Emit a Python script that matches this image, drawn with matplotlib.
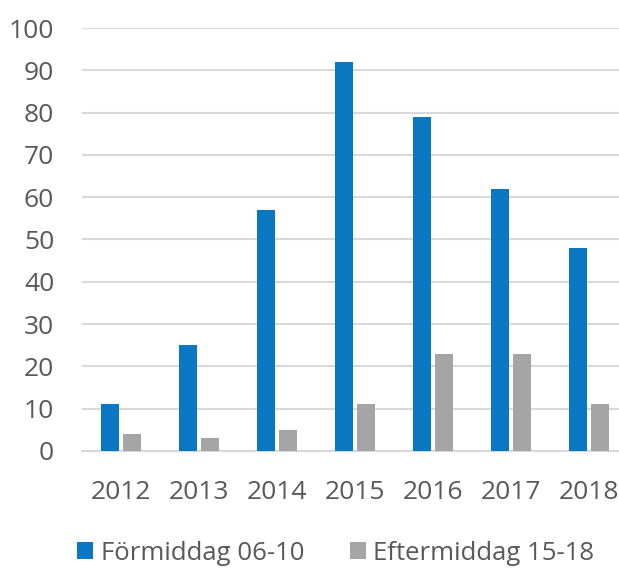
import matplotlib.pyplot as plt
import numpy as np

# data
years = ['2012', '2013', '2014', '2015', '2016', '2017', '2018']
morning = [11, 25, 57, 92, 79, 62, 48]    # Förmiddag 06-10
afternoon = [4, 3, 5, 11, 23, 23, 11]     # Eftermiddag 15-18
yticks = [0, 10, 20, 30, 40, 50, 60, 70, 80, 90, 100]

plt.rcParams['font.family'] = ['Open Sans', 'DejaVu Sans']
txt = '#595959'

fig = plt.figure(figsize=(6.19, 5.68), dpi=100)
ax = fig.add_axes([82/619, 117/568, 546/619, 423/568])

x = np.arange(len(years))
w = 0.23
ax.bar(x - 0.14, morning, w, color='#0A77C2', label='Förmiddag 06-10', zorder=3)
ax.bar(x + 0.14, afternoon, w, color='#A5A5A5', label='Eftermiddag 15-18', zorder=3)

ax.set_xlim(-0.5, len(years) - 0.5)
ax.set_ylim(0, 100)
ax.set_yticks(yticks)
ax.set_xticks(x, years)
ax.yaxis.grid(True, color='#D9D9D9', lw=1.5, zorder=0)
for s in ['top', 'right', 'left']:
    ax.spines[s].set_visible(False)
ax.spines['bottom'].set_color('#D9D9D9')
ax.spines['bottom'].set_linewidth(1.5)
ax.tick_params(axis='both', length=0, labelsize=19, labelcolor=txt)
ax.tick_params(axis='y', pad=20)
ax.tick_params(axis='x', pad=21)

ax.legend(loc='center', bbox_to_anchor=(254/546, -102/423), ncol=2, frameon=False,
          fontsize=18.5, labelcolor=txt, handlelength=0.6, handleheight=0.6,
          handletextpad=0.3, columnspacing=1.8)

fig.savefig('out.png', dpi=100)
